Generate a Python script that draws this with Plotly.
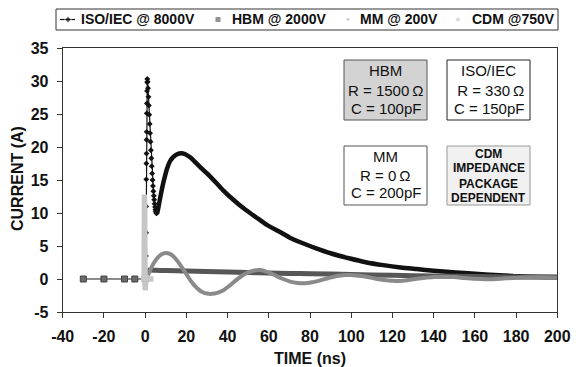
import plotly.graph_objects as go

W, H = 576, 367

# ---- ISO/IEC @ 8000V : initial spike (individual samples drawn as markers)
iso_spike_t = [0.30, 0.40, 0.45, 0.50, 0.55, 0.60, 0.65, 0.70, 0.75, 0.80, 0.85, 0.92, 1.00, 1.05,
               1.20, 1.40, 1.60, 1.80, 2.00, 2.20, 2.40, 2.60, 2.80, 3.00, 3.20, 3.40, 3.60, 3.80,
               4.00, 4.20, 4.40, 4.60, 4.80, 5.00, 5.20, 5.40, 5.60]
iso_spike_i = [0.0, 3.5, 7.0, 11.0, 15.1, 17.5, 19.0, 21.1, 22.3, 25.1, 26.6, 28.5, 29.8, 30.3,
               29.9, 28.9, 27.6, 26.3, 24.9, 23.5, 22.1, 20.8, 19.5, 18.3, 17.1, 16.0, 15.0, 14.1,
               13.3, 12.6, 12.0, 11.4, 10.9, 10.5, 10.2, 10.0, 9.95]

# ---- ISO/IEC @ 8000V : second hump and decay
iso_tail_t = [5.6, 6.0, 7.0, 8.0, 9.0, 10.5, 12.0, 13.7, 15.5, 17.5, 19.5, 22.0, 26.6, 30.0,
              34.7, 38.0, 42.8, 47.0, 50.9, 55.0, 59.0, 65.0, 70.0, 75.0, 83.0, 90.0, 99.4,
              107.0, 115.6, 124.0, 131.8, 140.0, 146.3, 155.0, 165.0, 178.5, 190.0, 200.0]
iso_tail_i = [9.95, 10.2, 11.8, 13.4, 14.8, 16.6, 17.8, 18.5, 18.9, 19.05, 18.9, 18.4, 17.0, 16.0,
              14.5, 13.4, 12.0, 10.9, 10.0, 9.1, 8.2, 7.2, 6.3, 5.6, 4.65, 3.9, 3.1,
              2.55, 2.1, 1.75, 1.5, 1.25, 1.1, 0.9, 0.7, 0.45, 0.35, 0.3]

# ---- HBM @ 2000V
hbm_pre_t = [-30, -20, -10, -5, 0]
hbm_pre_i = [0, 0, 0, 0, 0]
hbm_t = [0, 1, 2, 5, 10, 20, 30, 40, 50, 60, 70, 80, 100, 120, 140, 160, 180, 200]
hbm_i = [0, 1.0, 1.35, 1.32, 1.28, 1.22, 1.13, 1.05, 0.97, 0.9, 0.85, 0.8, 0.68, 0.55, 0.47,
         0.38, 0.3, 0.27]

# ---- MM @ 200V
mm_t = [0.5, 2, 4, 6, 8, 10, 12, 14, 16, 18, 20, 22, 24, 26, 28, 30, 32.5, 35, 38, 41, 44, 47,
        50, 53, 55.5, 58, 61, 64, 67, 70, 74, 77.5, 81, 85, 89, 93, 97, 100, 104, 108, 112,
        116, 120, 123, 127, 131, 135, 140, 145, 150, 155, 160, 165, 170, 175, 180, 186, 192, 200]
mm_i = [0.0, 1.0, 2.3, 3.2, 3.75, 3.95, 3.8, 3.35, 2.6, 1.7, 0.75, -0.2, -1.0, -1.6, -2.0, -2.2,
        -2.25, -2.1, -1.7, -1.0, -0.2, 0.5, 1.0, 1.3, 1.35, 1.2, 0.85, 0.4, 0.0, -0.35, -0.6,
        -0.65, -0.5, -0.2, 0.15, 0.45, 0.6, 0.62, 0.5, 0.3, 0.05, -0.15, -0.28, -0.3, -0.2, 0.0,
        0.15, 0.3, 0.35, 0.3, 0.15, 0.02, -0.05, 0.0, 0.1, 0.2, 0.25, 0.25, 0.2]

# ---- CDM @750V
cdm_t = [-2.0, -1.0, -0.5, -0.3, -0.15, 0.0, 0.15, 0.3, 0.5, 1.0, 2.0, 3.0, 4.0]
cdm_i = [0.0, 0.0, 0.0, 12.8, 2.0, -1.7, 1.5, -0.8, 0.5, 0.0, 0.0, 0.0, 0.0]

# ---- axis ticks (plain hyphen for negatives)
x_ticks = list(range(-40, 201, 20))
x_tick_text = [str(v) for v in x_ticks]
y_ticks = list(range(-5, 36, 5))
y_tick_text = [str(v) for v in y_ticks]

# ---- legend entries: (label, marker symbol, marker size, colour, text x, glyph x)
legend_items = [
    ("ISO/IEC @ 8000V", "diamond", 5, "#111111", 79, 68),
    ("HBM @ 2000V", "square", 6, "#666666", 230, 218),
    ("MM @ 200V", "triangle-up", 5, "#9a9a9a", 358, 348),
    ("CDM @750V", "circle", 5, "#cccccc", 470, 458),
]

FONT = "Liberation Sans, Arial, sans-serif"

# plot-area placement in pixels
PL, PR, PT, PB = 62.7, 557.3, 48.0, 312.0


def fx(x):
    return x / W


def fy(y):
    return 1 - y / H


fig = go.Figure()

fig.add_trace(go.Scatter(x=iso_tail_t, y=iso_tail_i, mode="lines",
                         line=dict(color="#111111", width=4.5, shape="spline", smoothing=0.6),
                         showlegend=False))
fig.add_trace(go.Scatter(x=iso_spike_t, y=iso_spike_i, mode="lines+markers",
                         line=dict(color="#111111", width=1.2),
                         marker=dict(symbol="diamond", size=4.5, color="#111111"),
                         showlegend=False))
fig.add_trace(go.Scatter(x=hbm_pre_t, y=hbm_pre_i, mode="lines+markers",
                         line=dict(color="#666666", width=1.5),
                         marker=dict(symbol="square", size=6, color="#6a6a6a",
                                     line=dict(color="#444444", width=1)),
                         showlegend=False))
fig.add_trace(go.Scatter(x=hbm_t, y=hbm_i, mode="lines",
                         line=dict(color="#575757", width=5, shape="spline", smoothing=0.6),
                         showlegend=False))
fig.add_trace(go.Scatter(x=mm_t, y=mm_i, mode="lines",
                         line=dict(color="#8a8a8a", width=4, shape="spline", smoothing=0.8),
                         showlegend=False))
fig.add_trace(go.Scatter(x=cdm_t, y=cdm_i, mode="lines",
                         line=dict(color="#c6c6c6", width=5.5),
                         showlegend=False))

# legend glyphs on a full-page pixel overlay
glyph_x, glyph_y, glyph_sym, glyph_size, glyph_col = [], [], [], [], []
for label, sym, size, col, tx, gx in legend_items:
    glyph_x.append(gx)
    glyph_y.append(19.5)
    glyph_sym.append(sym)
    glyph_size.append(size)
    glyph_col.append(col)
fig.add_trace(go.Scatter(x=[60, 75], y=[19.5, 19.5], mode="lines",
                         line=dict(color="#111111", width=1.2),
                         xaxis="x2", yaxis="y2", showlegend=False, hoverinfo="skip"))
fig.add_trace(go.Scatter(x=glyph_x, y=glyph_y, mode="markers",
                         marker=dict(symbol=glyph_sym, size=glyph_size, color=glyph_col),
                         xaxis="x2", yaxis="y2", showlegend=False, hoverinfo="skip"))

annotations = []
for label, sym, size, col, tx, gx in legend_items:
    annotations.append(dict(x=fx(tx), y=fy(19.5), xref="paper", yref="paper", text=label,
                            showarrow=False, xanchor="left", yanchor="middle",
                            font=dict(family=FONT, size=14, color="#111111", weight="bold")))

# axis titles
annotations.append(dict(x=fx(310), y=fy(358), xref="paper", yref="paper", text="TIME (ns)",
                        showarrow=False, xanchor="center", yanchor="middle",
                        font=dict(family=FONT, size=16, color="#111111", weight="bold")))
annotations.append(dict(x=fx(17), y=fy(179), xref="paper", yref="paper", text="CURRENT (A)",
                        showarrow=False, xanchor="center", yanchor="middle", textangle=-90,
                        font=dict(family=FONT, size=16, color="#111111", weight="bold")))

# model parameter boxes
shapes = [
    dict(type="rect", xref="paper", yref="paper", x0=fx(56), x1=fx(558), y0=fy(9), y1=fy(30),
         line=dict(color="#333333", width=1), fillcolor="rgba(0,0,0,0)"),
    dict(type="rect", xref="paper", yref="paper", x0=fx(344), x1=fx(427), y0=fy(60), y1=fy(120),
         line=dict(color="#555555", width=1), fillcolor="#d3d3d3"),
    dict(type="rect", xref="paper", yref="paper", x0=fx(447), x1=fx(530), y0=fy(60), y1=fy(120),
         line=dict(color="#222222", width=1), fillcolor="#ffffff"),
    dict(type="rect", xref="paper", yref="paper", x0=fx(344), x1=fx(427), y0=fy(146), y1=fy(205),
         line=dict(color="#555555", width=1), fillcolor="#ffffff"),
    dict(type="rect", xref="paper", yref="paper", x0=fx(447), x1=fx(530), y0=fy(146), y1=fy(205),
         line=dict(color="#999999", width=1), fillcolor="#f0f0f0"),
]

box_lines = [
    (385.5, [("HBM", 71), ("R = 1500\u2009\u03a9", 90), ("C = 100pF", 108.5)], 15, "normal"),
    (488.5, [("ISO/IEC", 71), (" R = 330\u2009\u03a9", 90), ("C = 150pF", 108.5)], 15, "normal"),
    (385.5, [("MM", 156), ("R = 0\u2009\u03a9", 175), ("C = 200pF", 192.5)], 15, "normal"),
    (488.5, [("CDM", 154), ("IMPEDANCE", 168.5), ("PACKAGE", 183.5), ("DEPENDENT", 198)], 12, "bold"),
]
for cx, lines, size, weight in box_lines:
    for txt, cy in lines:
        annotations.append(dict(x=fx(cx), y=fy(cy), xref="paper", yref="paper", text=txt,
                                showarrow=False, xanchor="center", yanchor="middle",
                                font=dict(family=FONT, size=size, color="#111111", weight=weight)))

tickfont = dict(family=FONT, size=16, color="#111111", weight="bold")

fig.update_layout(
    width=W, height=H,
    margin=dict(l=0, r=0, t=0, b=0, autoexpand=False),
    paper_bgcolor="#ffffff",
    plot_bgcolor="rgba(0,0,0,0)",
    showlegend=False,
    xaxis=dict(domain=[fx(PL), fx(PR)], range=[-40, 200], tickvals=x_ticks, ticktext=x_tick_text,
               ticks="outside", ticklen=5, tickcolor="#333333", tickwidth=1,
               showline=True, linecolor="#333333", linewidth=1, mirror=True, automargin=False,
               showgrid=False, zeroline=False, tickfont=tickfont, ticklabelstandoff=5),
    yaxis=dict(domain=[fy(PB), fy(PT)], range=[-5, 35], tickvals=y_ticks, ticktext=y_tick_text,
               ticks="outside", ticklen=5, tickcolor="#333333", tickwidth=1,
               showline=True, linecolor="#333333", linewidth=1, mirror=True, automargin=False,
               showgrid=False, zeroline=False, tickfont=tickfont, ticklabelstandoff=5),
    xaxis2=dict(domain=[0, 1], range=[0, W], anchor="y2", visible=False, fixedrange=True,
                automargin=False),
    yaxis2=dict(domain=[0, 1], range=[H, 0], anchor="x2", visible=False, fixedrange=True,
                automargin=False),
    annotations=annotations,
    shapes=shapes,
)

fig.write_html("out.html")
